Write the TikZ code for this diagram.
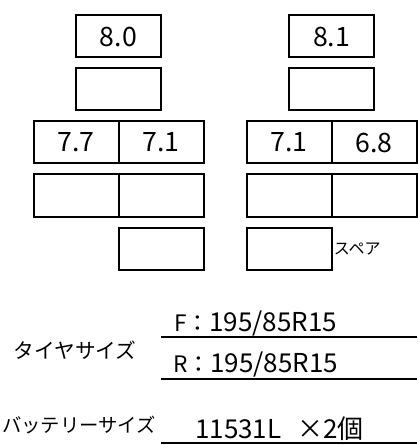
\documentclass[tikz,border=0pt]{standalone}
\usepackage{fontspec}
\setmainfont{Noto Sans CJK JP}
\usetikzlibrary{positioning}

\begin{document}
\begin{tikzpicture}[x=0.75pt, y=-0.75pt,
  cell/.style={draw, line width=1.5pt, minimum width=63.75pt, minimum height=31.5pt, inner sep=0pt, outer sep=0pt, font=\fontsize{20}{22}\selectfont},
  rule/.style={line width=2pt},
  jp/.style={font=\fontsize{15.5}{18}\selectfont, inner sep=0pt},
  num/.style={font=\fontsize{19.5}{22}\selectfont, inner sep=0pt, anchor=base west},
  node distance=8.25pt and 0pt]
  \useasboundingbox (0,0) rectangle (417,445);

  % left side
  \node[cell] (lf) at (118.5,36.5) {8.0};
  \node[cell, below=of lf] (lf2) {};
  \node[cell, below left=8.25pt and 0pt of lf2.south] (l3a) {7.7};
  \node[cell, right=of l3a] (l3b) {7.1};
  \node[cell, below=of l3a] (l4a) {};
  \node[cell, below=of l3b] (l4b) {};
  \node[cell, below=of l4b] (l5b) {};

  % right side
  \node[cell] (rf) at (331.5,36.5) {8.1};
  \node[cell, below=of rf] (rf2) {};
  \node[cell, below left=8.25pt and 0pt of rf2.south] (r3a) {7.1};
  \node[cell, right=of r3a] (r3b) {6.8};
  \node[cell, below=of r3a] (r4a) {};
  \node[cell, below=of r3b] (r4b) {};
  \node[cell, below=of r4a] (r5a) {};
  \node[right=1.5pt of r5a, font=\fontsize{12}{14}\selectfont, inner sep=0pt] (spare) {スペア};

  % tyre size
  \node[jp] (tyre) at (75,350) {タイヤサイズ};
  \coordinate (f1) at (161,337);
  \coordinate (f2) at (417,337);
  \coordinate (r1) at (161,379);
  \coordinate (r2) at (417,379);
  \draw[rule] (f1) -- (f2);
  \draw[rule] (r1) -- (r2);
  \node[num] (ftxt) at (174,331) {{\fontsize{17}{19}\selectfont F：}195/85R15};
  \node[num] (rtxt) at (173,372) {{\fontsize{17}{19}\selectfont R：}195/85R15};

  % battery size
  \node[jp, anchor=east, font=\fontsize{14.5}{17}\selectfont] (batt) at (156,425) {バッテリーサイズ};
  \coordinate (b1) at (161,443);
  \coordinate (b2) at (417,443);
  \draw[rule] (b1) -- (b2);
  \node[num] (btxt) at (195,438) {11531L\hspace{0.6em}×2個};
\end{tikzpicture}
\end{document}
